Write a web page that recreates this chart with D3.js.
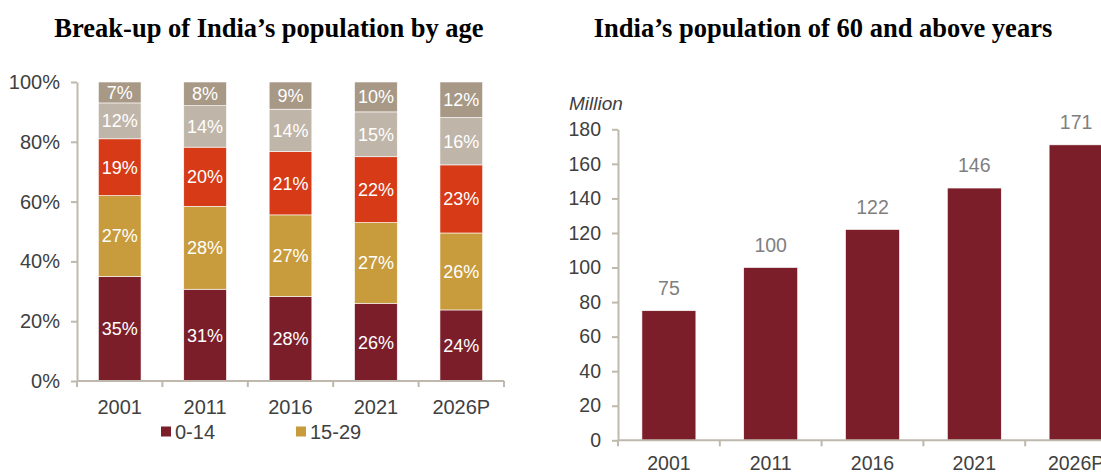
<!DOCTYPE html>
<html><head><meta charset="utf-8">
<script src="https://cdn.jsdelivr.net/npm/d3@7"></script>
<style>
html,body{margin:0;padding:0;background:#fff;overflow:hidden;}
svg{display:block;}
</style></head>
<body>
<svg id="chart" width="1101" height="473"></svg>
<script>
// ---- data ----
const years = ["2001", "2011", "2016", "2021", "2026P"];
const ageGroups = ["0-14", "15-29", "30-44", "45-59", "60+"];
const share0_14  = [35, 31, 28, 26, 24];
const share15_29 = [27, 28, 27, 27, 26];
const share30_44 = [19, 20, 21, 22, 23];
const share45_59 = [12, 14, 14, 15, 16];
const share60p   = [7, 8, 9, 10, 12];
const pctTicks = [0, 0.2, 0.4, 0.6, 0.8, 1.0];
const legendShown = ["0-14", "15-29"];

const elderYears = ["2001", "2011", "2016", "2021", "2026P"];
const elderPop = [75, 100, 122, 146, 171];
const elderTicks = [0, 20, 40, 60, 80, 100, 120, 140, 160, 180];

const colors = {"0-14": "#7b1e2a", "15-29": "#c89b3c", "30-44": "#d63a17", "45-59": "#bfb5a8", "60+": "#a89886"};
const axisColor = "#bfb8ac";
const textColor = "#404040";

const svg = d3.select("#chart");
const FONT = "'Liberation Sans', Arial, sans-serif";
const SERIF = "'Liberation Serif', 'Times New Roman', serif";

// ---- titles ----
svg.append("text").attr("x", 269).attr("y", 36.5).attr("text-anchor", "middle")
  .attr("font-family", SERIF).attr("font-weight", "bold").attr("font-size", 26.5).attr("fill", "#000")
  .text("Break-up of India\u2019s population by age");
svg.append("text").attr("x", 823).attr("y", 36.5).attr("text-anchor", "middle")
  .attr("font-family", SERIF).attr("font-weight", "bold").attr("font-size", 26.5).attr("fill", "#000")
  .text("India\u2019s population of 60 and above years");

// ---- left chart: stacked 100% ----
(function(){
  const rows = years.map((y, i) => ({year: y, "0-14": share0_14[i], "15-29": share15_29[i], "30-44": share30_44[i], "45-59": share45_59[i], "60+": share60p[i]}));
  const stack = d3.stack().keys(ageGroups).offset(d3.stackOffsetExpand);
  const series = stack(rows);
  const x = d3.scaleBand().domain(years).range([77, 504]).paddingInner(0.5).paddingOuter(0.25);
  const y = d3.scaleLinear().domain([0, 1]).range([381, 82]);
  const g = svg.append("g");

  series.forEach(s => {
    const key = s.key;
    g.selectAll(null).data(s).enter().append("rect")
      .attr("x", d => x(d.data.year)).attr("width", x.bandwidth())
      .attr("y", d => y(d[1])).attr("height", d => y(d[0]) - y(d[1]))
      .attr("fill", colors[key]).attr("stroke", "#fff").attr("stroke-width", 0.6);
    g.selectAll(null).data(s).enter().append("text")
      .attr("x", d => x(d.data.year) + x.bandwidth() / 2)
      .attr("y", d => (y(d[0]) + y(d[1])) / 2 + 6.5)
      .attr("text-anchor", "middle").attr("font-family", FONT).attr("font-size", 18)
      .attr("fill", "#fff").text(d => d.data[key] + "%");
  });

  // y axis
  const ya = d3.axisLeft(y).tickValues(pctTicks).tickFormat(d3.format(".0%")).tickSize(6).tickSizeOuter(0).tickPadding(11);
  const yg = g.append("g").attr("transform", "translate(77,0)").call(ya);
  yg.select(".domain").attr("stroke", axisColor).attr("stroke-width", 2);
  yg.selectAll(".tick line").attr("stroke", axisColor).attr("stroke-width", 2);
  yg.selectAll(".tick text").attr("font-family", FONT).attr("font-size", 20).attr("fill", textColor);

  // x axis
  const step = x.step();
  const bounds = d3.range(years.length + 1).map(i => x.range()[0] + i * step);
  g.append("line").attr("x1", x.range()[0]).attr("x2", x.range()[1]).attr("y1", y(0)).attr("y2", y(0))
    .attr("stroke", axisColor).attr("stroke-width", 2);
  g.selectAll(null).data(bounds).enter().append("line")
    .attr("x1", d => d).attr("x2", d => d).attr("y1", y(0)).attr("y2", y(0) + 6)
    .attr("stroke", axisColor).attr("stroke-width", 2);
  g.selectAll(null).data(years).enter().append("text")
    .attr("x", d => x(d) + x.bandwidth() / 2).attr("y", 413.5).attr("text-anchor", "middle")
    .attr("font-family", FONT).attr("font-size", 20).attr("fill", textColor).text(d => d);

  // legend
  const lx = [161, 296];
  legendShown.forEach((k, i) => {
    g.append("rect").attr("x", lx[i]).attr("y", 426.5).attr("width", 10).attr("height", 10).attr("fill", colors[k]);
    g.append("text").attr("x", lx[i] + 14).attr("y", 438.5).attr("font-family", FONT).attr("font-size", 20)
      .attr("fill", textColor).text(k);
  });
})();

// ---- right chart: bars ----
(function(){
  const step = 101.8;
  const x = d3.scaleBand().domain(elderYears).range([618, 618 + step * elderYears.length]).paddingInner(0.47).paddingOuter(0.235);
  const y = d3.scaleLinear().domain([0, 180]).range([440.3, 129.3]);
  const g = svg.append("g");

  g.selectAll(null).data(elderYears).enter().append("rect")
    .attr("x", d => x(d)).attr("width", x.bandwidth())
    .attr("y", (d, i) => y(elderPop[i])).attr("height", (d, i) => y(0) - y(elderPop[i]))
    .attr("fill", "#7b1e2a").attr("stroke", "#fff").attr("stroke-width", 0.6);
  g.selectAll(null).data(elderYears).enter().append("text")
    .attr("x", d => x(d) + x.bandwidth() / 2).attr("y", (d, i) => y(elderPop[i]) - 16)
    .attr("text-anchor", "middle").attr("font-family", FONT).attr("font-size", 19.5)
    .attr("fill", "#7f7f7f").text((d, i) => elderPop[i]);

  const ya = d3.axisLeft(y).tickValues(elderTicks).tickSize(6).tickSizeOuter(0).tickPadding(11);
  const yg = g.append("g").attr("transform", "translate(618,0)").call(ya);
  yg.select(".domain").attr("stroke", axisColor).attr("stroke-width", 2);
  yg.selectAll(".tick line").attr("stroke", axisColor).attr("stroke-width", 2);
  yg.selectAll(".tick text").attr("font-family", FONT).attr("font-size", 19.5).attr("fill", textColor);

  const bounds = d3.range(elderYears.length + 1).map(i => x.range()[0] + i * x.step());
  g.append("line").attr("x1", x.range()[0]).attr("x2", x.range()[1]).attr("y1", y(0)).attr("y2", y(0))
    .attr("stroke", axisColor).attr("stroke-width", 2);
  g.selectAll(null).data(bounds).enter().append("line")
    .attr("x1", d => d).attr("x2", d => d).attr("y1", y(0)).attr("y2", y(0) + 6)
    .attr("stroke", axisColor).attr("stroke-width", 2);
  g.selectAll(null).data(elderYears).enter().append("text")
    .attr("x", d => x(d) + x.bandwidth() / 2).attr("y", 469.5).attr("text-anchor", "middle")
    .attr("font-family", FONT).attr("font-size", 19.5).attr("fill", textColor).text(d => d);

  g.append("text").attr("x", 569).attr("y", 110).attr("font-family", FONT).attr("font-style", "italic")
    .attr("font-size", 19).attr("fill", textColor).text("Million");
})();
</script>
</body></html>
